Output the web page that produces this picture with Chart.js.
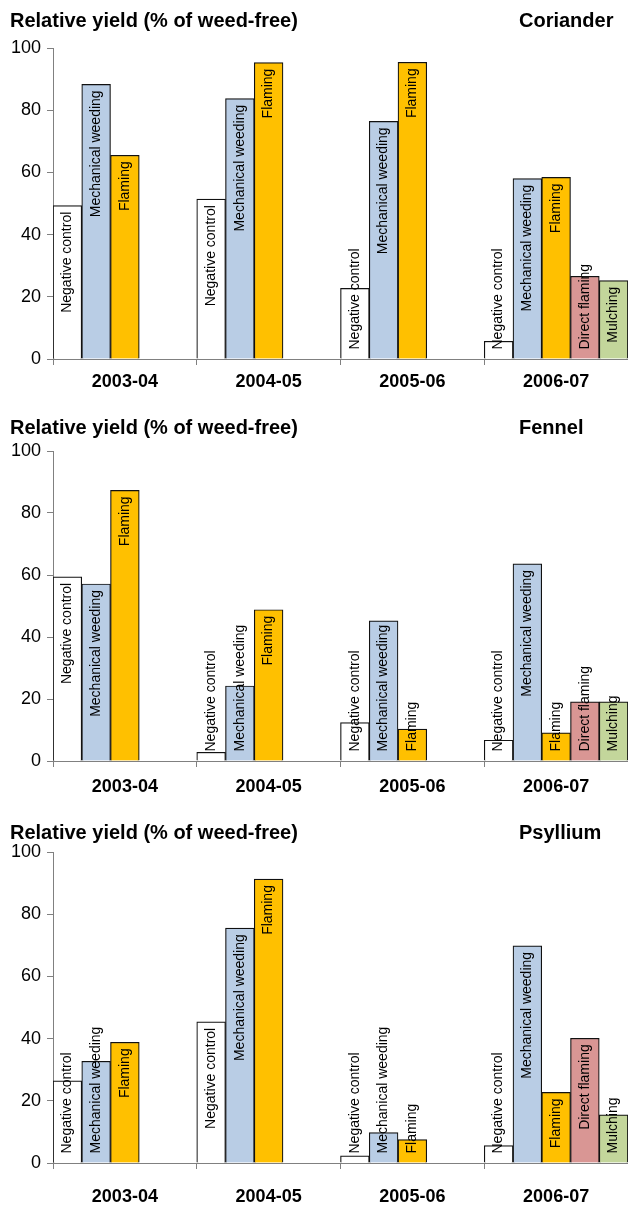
<!DOCTYPE html>
<html>
<head>
<meta charset="utf-8">
<script src="https://cdn.jsdelivr.net/npm/chart.js@4"></script>
<style>
  body { margin: 0; background: #fff; font-family: "Liberation Sans", Arial, sans-serif; }
  #page { position: relative; width: 628px; height: 1205px; overflow: hidden; }
  canvas { position: absolute; left: 0; }
  .ttl { position: absolute; font-weight: bold; font-size: 20px; line-height: 22px; color: #000; z-index: 2; white-space: nowrap; }
</style>
</head>
<body>
<div id="page">
  <div class="ttl" style="left:10px;top:9px">Relative yield (% of weed-free)</div>
  <div class="ttl" style="left:519px;top:9px">Coriander</div>
  <canvas id="c1" width="628" height="370" style="top:30px"></canvas>

  <div class="ttl" style="left:10px;top:416px">Relative yield (% of weed-free)</div>
  <div class="ttl" style="left:519px;top:416px">Fennel</div>
  <canvas id="c2" width="628" height="370" style="top:430px"></canvas>

  <div class="ttl" style="left:10px;top:821px">Relative yield (% of weed-free)</div>
  <div class="ttl" style="left:519px;top:821px">Psyllium</div>
  <canvas id="c3" width="628" height="373" style="top:832px"></canvas>
</div>
<script>
var categories = ['2003-04', '2004-05', '2005-06', '2006-07']
var treatments = ['Negative control', 'Mechanical weeding', 'Flaming', 'Direct flaming', 'Mulching']
var yTicks = [0, 20, 40, 60, 80, 100]

var corianderNeg    = [49.3, 51.4, 22.7, 5.7]
var corianderMech   = [88.3, 83.7, 76.4, 58.0]
var corianderFlam   = [65.5, 95.3, 95.4, 58.4]
var corianderDirect = [null, null, null, 26.6]
var corianderMulch  = [null, null, null, 25.2]

var fennelNeg    = [59.4, 2.8, 12.4, 6.7]
var fennelMech   = [57.1, 24.2, 45.2, 63.6]
var fennelFlam   = [87.3, 48.8, 10.3, 9.1]
var fennelDirect = [null, null, null, 19.1]
var fennelMulch  = [null, null, null, 19.1]

var psylliumNeg    = [26.4, 45.4, 2.3, 5.6]
var psylliumMech   = [32.7, 75.5, 9.8, 69.8]
var psylliumFlam   = [38.8, 91.3, 7.5, 22.7]
var psylliumDirect = [null, null, null, 40.1]
var psylliumMulch  = [null, null, null, 15.5]

var colors = ['#ffffff', '#b9cde5', '#ffc000', '#d99694', '#c3d69b']
var axisColor = '#808080'

// vertical labels written inside the bars, pushed up when the bar is too short
var barLabels = {
    id: 'barLabels',
    afterDatasetsDraw: function(chart) {
        var ctx = chart.ctx
        ctx.save()
        ctx.font = '14px "Liberation Sans", Arial, sans-serif'
        ctx.fillStyle = '#000'
        ctx.textAlign = 'left'
        ctx.textBaseline = 'middle'
        chart.data.datasets.forEach(function(ds, i) {
            var meta = chart.getDatasetMeta(i)
            meta.data.forEach(function(bar, j) {
                if (ds.data[j] == null) return
                var w = ctx.measureText(ds.label).width
                var top = bar.y + 6
                if (top + w > bar.base - 9) top = bar.base - 9 - w
                ctx.save()
                ctx.translate(bar.x, top + w)
                ctx.rotate(-Math.PI / 2)
                ctx.fillText(ds.label, 0, 0)
                ctx.restore()
            })
        })
        ctx.restore()
    }
}

function makeChart(id, series, padTop, xHeight, labelPad) {
    var datasets = series.map(function(vals, i) {
        return {
            label: treatments[i],
            data: vals,
            backgroundColor: colors[i],
            borderColor: '#111',
            borderWidth: 1.2,
            categoryPercentage: 1,
            barPercentage: 1
        }
    })
    return new Chart(document.getElementById(id), {
        type: 'bar',
        data: { labels: categories, datasets: datasets },
        plugins: [barLabels],
        options: {
            responsive: false,
            animation: false,
            layout: { padding: { top: padTop, right: 0, bottom: 0, left: 0 } },
            plugins: { legend: { display: false }, tooltip: { enabled: false } },
            scales: {
                x: {
                    grid: { offset: true, drawOnChartArea: false, drawTicks: true, tickLength: 6, color: axisColor },
                    border: { display: true, color: axisColor, width: 1 },
                    ticks: { color: '#000', padding: labelPad, font: { family: '"Liberation Sans", Arial, sans-serif', size: 18, weight: 'bold' } },
                    afterFit: function(s) { s.height = xHeight }
                },
                y: {
                    min: 0,
                    max: 100,
                    afterBuildTicks: function(s) { s.ticks = yTicks.map(function(v) { return { value: v } }) },
                    grid: { drawOnChartArea: false, drawTicks: true, tickLength: 6, color: axisColor },
                    border: { display: true, color: axisColor, width: 1 },
                    ticks: { color: '#000', padding: 6, font: { family: '"Liberation Sans", Arial, sans-serif', size: 18 } },
                    afterFit: function(s) { s.width = 53 }
                }
            }
        }
    })
}

makeChart('c1', [corianderNeg, corianderMech, corianderFlam, corianderDirect, corianderMulch], 18, 41, 6)
makeChart('c2', [fennelNeg, fennelMech, fennelFlam, fennelDirect, fennelMulch], 21, 39, 9)
makeChart('c3', [psylliumNeg, psylliumMech, psylliumFlam, psylliumDirect, psylliumMulch], 20, 42, 17)
</script>
</body>
</html>
